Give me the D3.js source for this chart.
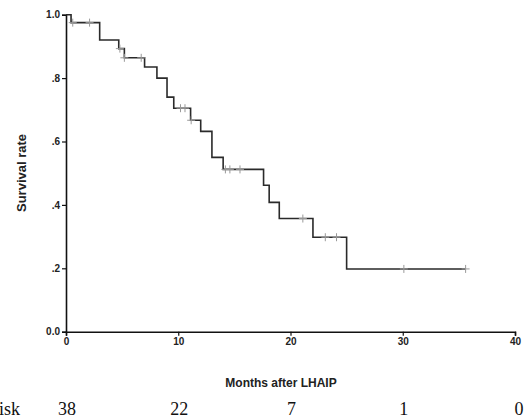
<!DOCTYPE html>
<html>
<head>
<meta charset="utf-8">
<script src="https://d3js.org/d3.v7.min.js"></script>
<style>
    body { margin: 0; background: #fff; }
    .chart text.ax { font: bold 10px Arial, "Liberation Sans", sans-serif; fill: #222; }
    .chart text.title { font: bold 12px Arial, "Liberation Sans", sans-serif; fill: #222; }
    .chart text.ytitle { font: bold 13px Arial, "Liberation Sans", sans-serif; fill: #222; }
    .chart text.risk { font: 18px "Times New Roman", "Liberation Serif", serif; fill: #111; }
</style>
</head>
<body>
<svg class="chart" width="531" height="418"></svg>
<script>
    // step points: time (months) and survival after the drop
    let stepTimes = [0, 0.45, 3.0, 4.7, 5.2, 7.0, 8.1, 9.0, 9.6, 11.1, 12.0, 13.0, 14.0, 17.6, 18.1, 19.0, 22.0, 25.0]
    let stepSurv  = [1.0, 0.975, 0.92, 0.893, 0.864, 0.835, 0.80, 0.74, 0.705, 0.667, 0.632, 0.55, 0.512, 0.462, 0.408, 0.357, 0.298, 0.198]
    let endTime = 35.6

    // censored observations
    let censorTimes = [0.6, 2.1, 4.8, 5.2, 6.7, 10.2, 10.6, 11.15, 14.2, 14.6, 15.5, 21.1, 23.1, 24.1, 30.1, 35.6]

    let xTicks = [0, 10, 20, 30, 40]
    let yTicks = [0, 0.2, 0.4, 0.6, 0.8, 1.0]
    let yTickLabels = ['0.0', '.2', '.4', '.6', '.8', '1.0']
    let atRisk = [38, 22, 7, 1, 0]

    let svg = d3.select('svg')
    let x = d3.scaleLinear().domain([0, 40]).range([66, 515])
    let y = d3.scaleLinear().domain([0, 1]).range([331.7, 14.7])

    let survAt = t => {
        let s = stepSurv[0]
        stepTimes.forEach((st, i) => { if (st <= t) s = stepSurv[i] })
        return s
    }

    // y axis
    let yAxis = d3.axisLeft(y).tickValues(yTicks).tickSize(4).tickFormat((d, i) => yTickLabels[i])
    let gy = svg.append('g').attr('transform', 'translate(' + x(0) + ',0)').call(yAxis)
    gy.select('.domain').attr('stroke', '#111').attr('stroke-width', 1.6)
    gy.selectAll('.tick line').attr('stroke', '#111').attr('stroke-width', 1.2)
    gy.selectAll('.tick text').attr('class', 'ax').attr('x', -6)

    // x axis
    let xAxis = d3.axisBottom(x).tickValues(xTicks).tickSize(4)
    let gx = svg.append('g').attr('transform', 'translate(0,' + y(0) + ')').call(xAxis)
    gx.select('.domain').attr('stroke', '#111').attr('stroke-width', 1.6)
    gx.selectAll('.tick line').attr('stroke', '#111').attr('stroke-width', 1.2)
    gx.selectAll('.tick text').attr('class', 'ax').attr('y', 6)

    // survival curve
    let pts = stepTimes.map((t, i) => [t, stepSurv[i]])
    pts.push([endTime, stepSurv[stepSurv.length - 1]])
    let line = d3.line().x(d => x(d[0])).y(d => y(d[1])).curve(d3.curveStepAfter)
    svg.append('path')
        .datum(pts)
        .attr('fill', 'none')
        .attr('stroke', '#2a2a2a')
        .attr('stroke-width', 1.6)
        .attr('d', line)

    // censor marks
    let cm = svg.selectAll('g.censor')
        .data(censorTimes)
        .enter()
        .append('g')
        .attr('class', 'censor')
        .attr('transform', d => 'translate(' + x(d) + ',' + y(survAt(d)) + ')')
    cm.append('line').attr('x1', -4).attr('x2', 4).attr('y1', 0).attr('y2', 0)
        .attr('stroke', '#999').attr('stroke-width', 1)
    cm.append('line').attr('x1', 0).attr('x2', 0).attr('y1', -4).attr('y2', 4)
        .attr('stroke', '#999').attr('stroke-width', 1)

    // axis titles
    svg.append('text')
        .attr('class', 'title')
        .attr('text-anchor', 'middle')
        .attr('x', 281)
        .attr('y', 387)
        .text('Months after LHAIP')

    svg.append('text')
        .attr('class', 'ytitle')
        .attr('text-anchor', 'middle')
        .attr('transform', 'translate(26,173) rotate(-90)')
        .text('Survival rate')

    // number at risk (label is clipped at the left edge, as in the source figure)
    svg.append('text')
        .attr('class', 'risk')
        .attr('text-anchor', 'end')
        .attr('x', 20)
        .attr('y', 415)
        .text('Patients at risk')

    svg.selectAll('text.num')
        .data(atRisk)
        .enter()
        .append('text')
        .attr('class', 'risk num')
        .attr('text-anchor', 'middle')
        .attr('x', (d, i) => x(xTicks[i]) + 1 + (i === atRisk.length - 1 ? 3 : 0))
        .attr('y', 415)
        .text(d => d)
</script>
</body>
</html>
